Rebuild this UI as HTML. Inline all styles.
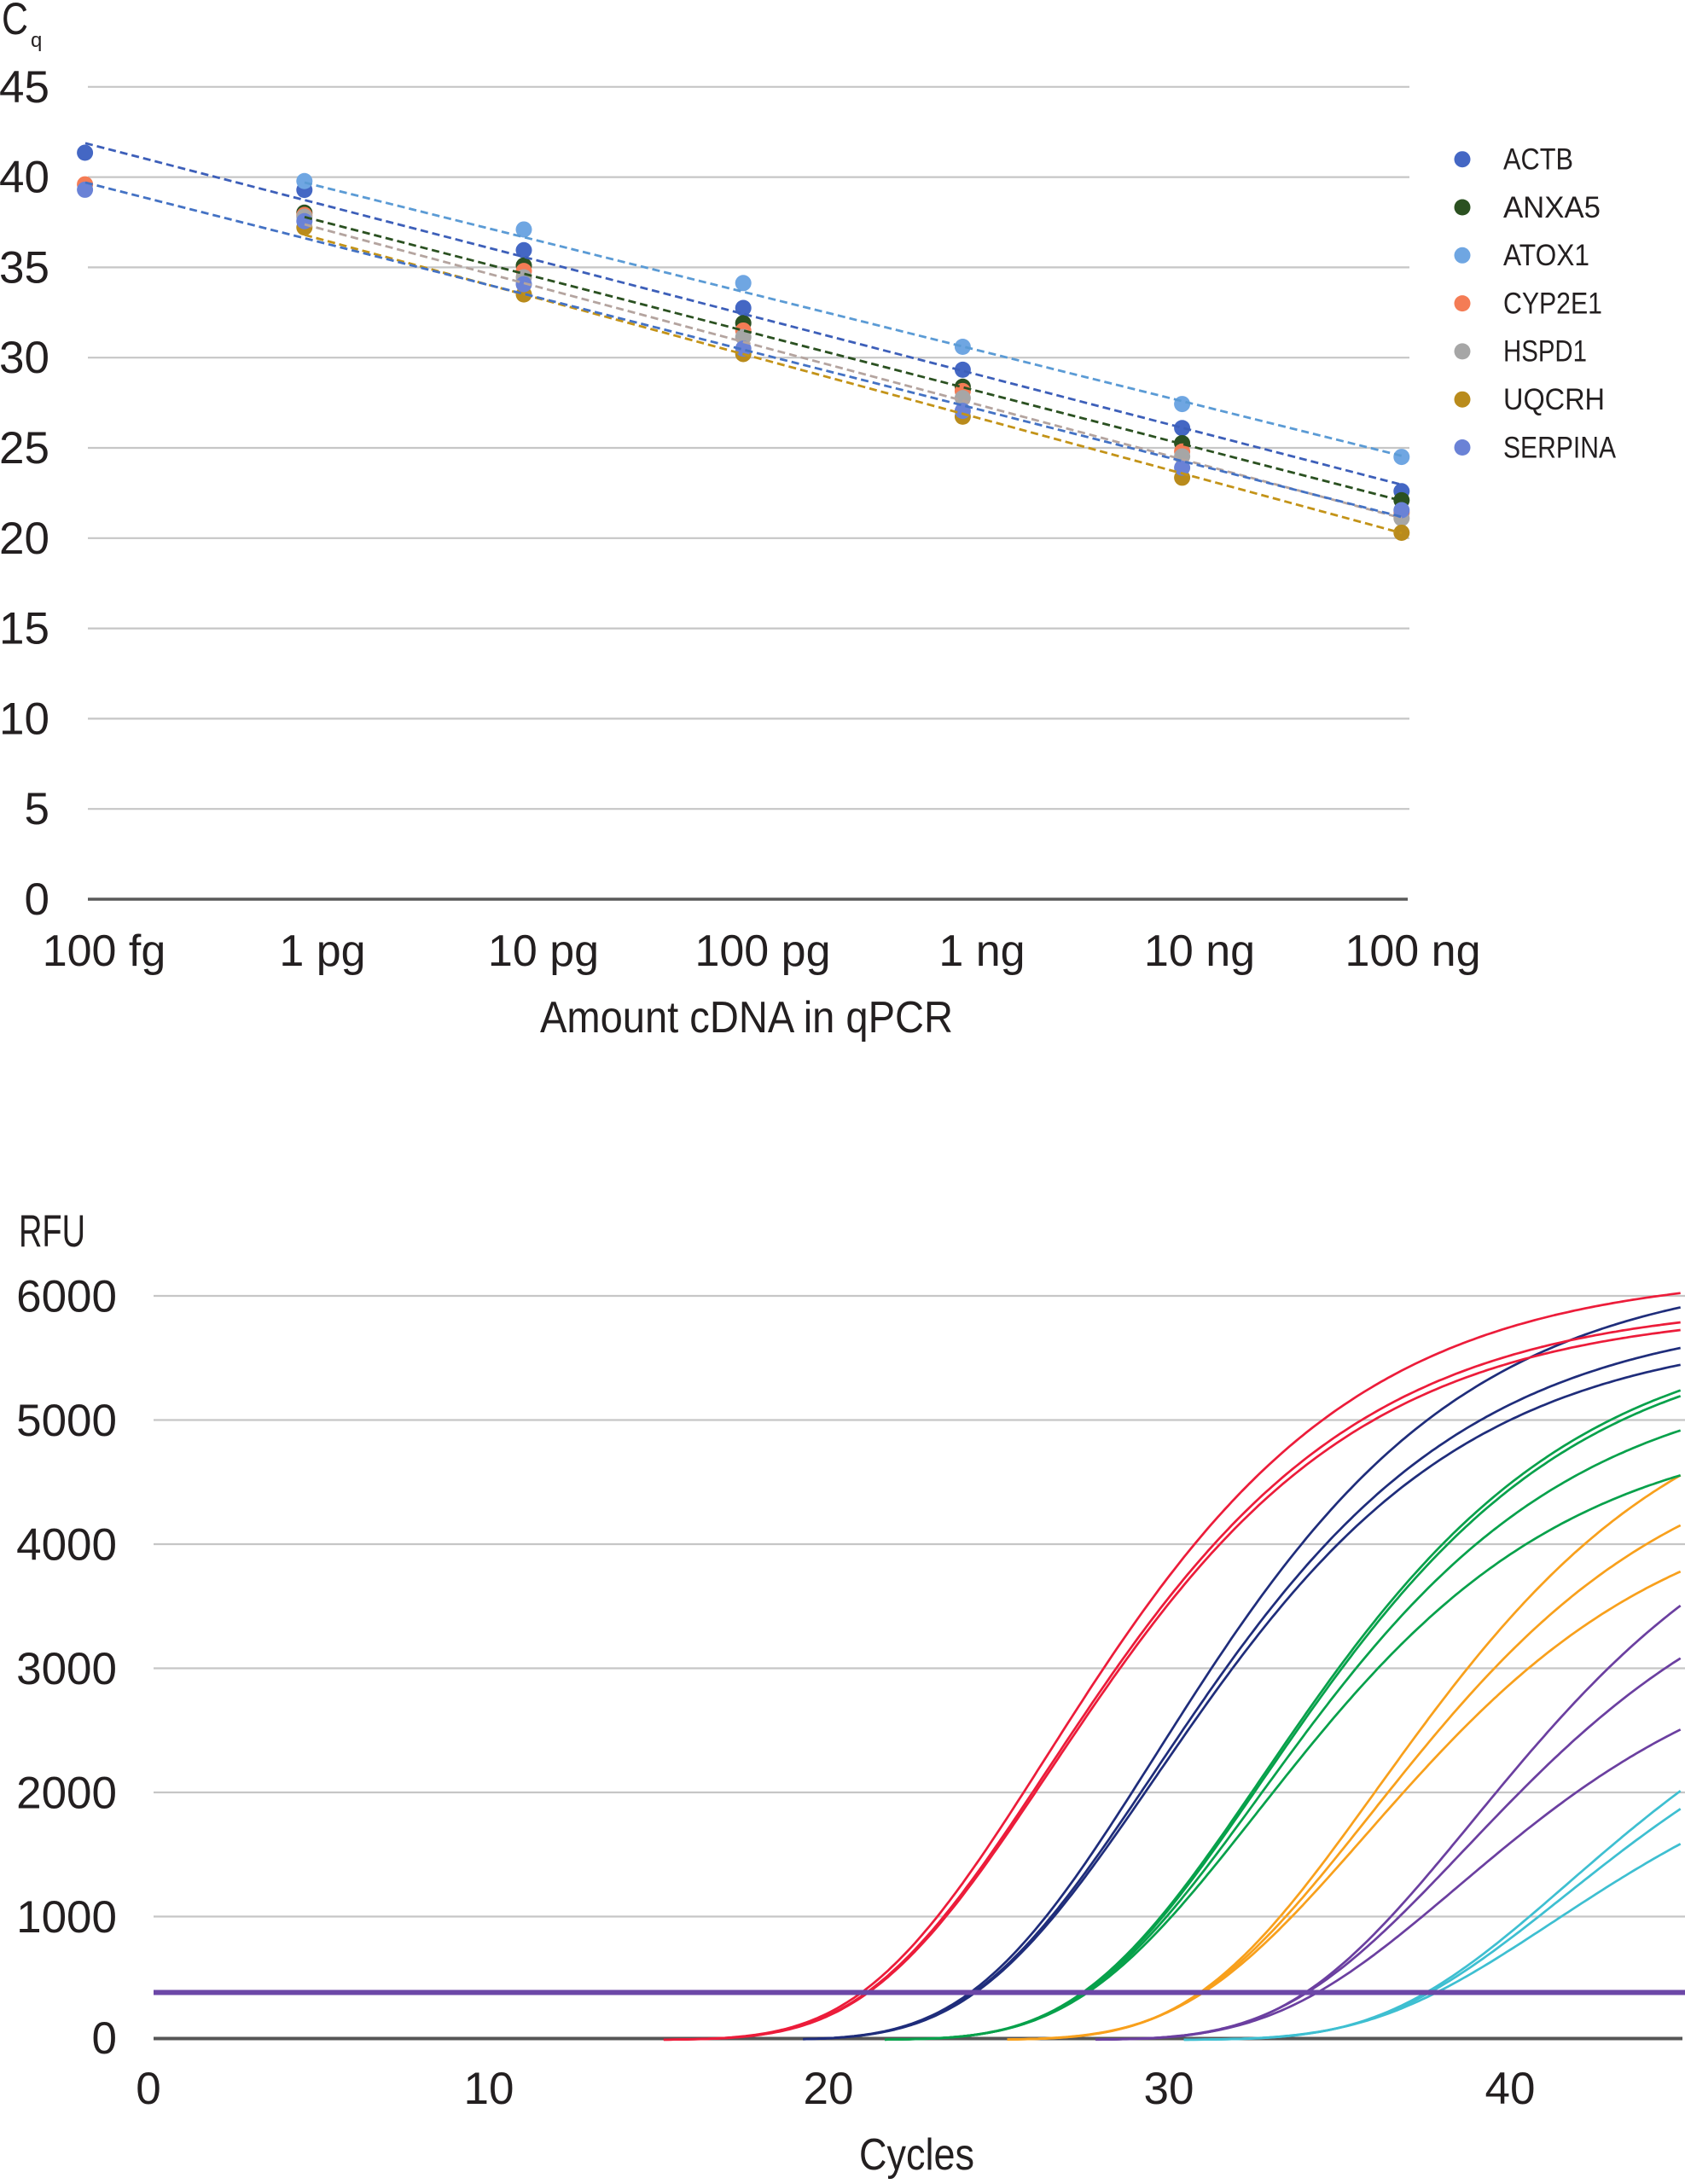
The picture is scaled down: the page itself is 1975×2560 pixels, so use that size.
<!DOCTYPE html>
<html>
<head>
<meta charset="utf-8">
<style>
  html,body{margin:0;padding:0;background:#fff;}
  svg{display:block;}
  text{font-family:"Liberation Sans", Arial, sans-serif; fill:#231f20;}
</style>
</head>
<body>
<svg id="chart" xmlns="http://www.w3.org/2000/svg" width="1975" height="2560" viewBox="0 0 1975 2560">
  <rect x="0" y="0" width="1975" height="2560" fill="#ffffff"/>

  <!-- ================= TOP CHART ================= -->
  <g id="topgrid" stroke="#c6c6c6" stroke-width="2.2">
    <line x1="103" y1="101.8" x2="1652" y2="101.8"/>
    <line x1="103" y1="207.6" x2="1652" y2="207.6"/>
    <line x1="103" y1="313.4" x2="1652" y2="313.4"/>
    <line x1="103" y1="419.2" x2="1652" y2="419.2"/>
    <line x1="103" y1="525" x2="1652" y2="525"/>
    <line x1="103" y1="630.8" x2="1652" y2="630.8"/>
    <line x1="103" y1="736.6" x2="1652" y2="736.6"/>
    <line x1="103" y1="842.4" x2="1652" y2="842.4"/>
    <line x1="103" y1="948.2" x2="1652" y2="948.2"/>
  </g>
  <line x1="103" y1="1054" x2="1650" y2="1054" stroke="#595959" stroke-width="3.5"/>

  <!-- Cq label -->
  <text x="2" y="40" font-size="53" textLength="31" lengthAdjust="spacingAndGlyphs">C</text>
  <text x="36" y="55" font-size="24">q</text>

  <!-- top y tick labels -->
  <g font-size="53" text-anchor="end">
    <text x="58" y="120">45</text>
    <text x="58" y="225.6">40</text>
    <text x="58" y="331.4">35</text>
    <text x="58" y="437.2">30</text>
    <text x="58" y="543">25</text>
    <text x="58" y="648.8">20</text>
    <text x="58" y="754.6">15</text>
    <text x="58" y="860.4">10</text>
    <text x="58" y="966.2">5</text>
    <text x="58" y="1072">0</text>
  </g>

  <!-- top x tick labels -->
  <g font-size="52" text-anchor="middle">
    <text x="122" y="1132">100 fg</text>
    <text x="378" y="1132">1 pg</text>
    <text x="637" y="1132">10 pg</text>
    <text x="894" y="1132">100 pg</text>
    <text x="1151" y="1132">1 ng</text>
    <text x="1406" y="1132">10 ng</text>
    <text x="1656" y="1132">100 ng</text>
  </g>
  <text x="633" y="1210" font-size="52" textLength="484" lengthAdjust="spacingAndGlyphs">Amount cDNA in qPCR</text>

  <g id="topdots"></g>
  <g id="toplines" fill="none" stroke-width="2.8" stroke-dasharray="9 5"></g>

  <!-- legend -->
  <g id="legend">
    <circle cx="1714" cy="186.7" r="9.5" fill="#4467c4"/>
    <circle cx="1714" cy="243" r="9.5" fill="#2b5121"/>
    <circle cx="1714" cy="299.3" r="9.5" fill="#6fa6e2"/>
    <circle cx="1714" cy="355.6" r="9.5" fill="#f47c55"/>
    <circle cx="1714" cy="411.9" r="9.5" fill="#a6a6a6"/>
    <circle cx="1714" cy="468.2" r="9.5" fill="#b98b1c"/>
    <circle cx="1714" cy="524.5" r="9.5" fill="#6a82d6"/>
    <g font-size="35">
      <text x="1762" y="198.5" textLength="82" lengthAdjust="spacingAndGlyphs">ACTB</text>
      <text x="1762" y="254.8" textLength="114" lengthAdjust="spacingAndGlyphs">ANXA5</text>
      <text x="1762" y="311.1" textLength="101" lengthAdjust="spacingAndGlyphs">ATOX1</text>
      <text x="1762" y="367.4" textLength="116" lengthAdjust="spacingAndGlyphs">CYP2E1</text>
      <text x="1762" y="423.7" textLength="98" lengthAdjust="spacingAndGlyphs">HSPD1</text>
      <text x="1762" y="480" textLength="119" lengthAdjust="spacingAndGlyphs">UQCRH</text>
      <text x="1762" y="536.3" textLength="132" lengthAdjust="spacingAndGlyphs">SERPINA</text>
    </g>
  </g>

  <!-- ================= BOTTOM CHART ================= -->
  <text x="22" y="1461" font-size="53" textLength="78" lengthAdjust="spacingAndGlyphs">RFU</text>
  <g stroke="#c6c6c6" stroke-width="2.2">
    <line x1="180" y1="1519" x2="1975" y2="1519"/>
    <line x1="180" y1="1664.5" x2="1975" y2="1664.5"/>
    <line x1="180" y1="1810" x2="1975" y2="1810"/>
    <line x1="180" y1="1955.5" x2="1975" y2="1955.5"/>
    <line x1="180" y1="2101" x2="1975" y2="2101"/>
    <line x1="180" y1="2246.5" x2="1975" y2="2246.5"/>
  </g>
  <g font-size="53" text-anchor="end">
    <text x="137" y="1537.5">6000</text>
    <text x="137" y="1683">5000</text>
    <text x="137" y="1828.5">4000</text>
    <text x="137" y="1974">3000</text>
    <text x="137" y="2119.5">2000</text>
    <text x="137" y="2265">1000</text>
    <text x="137" y="2407">0</text>
  </g>
  <g font-size="53" text-anchor="middle">
    <text x="174" y="2466">0</text>
    <text x="573" y="2466">10</text>
    <text x="971" y="2466">20</text>
    <text x="1370" y="2466">30</text>
    <text x="1770" y="2466">40</text>
  </g>
  <text x="1007" y="2543" font-size="52" textLength="135" lengthAdjust="spacingAndGlyphs">Cycles</text>

  <line x1="180" y1="2389.5" x2="1972" y2="2389.5" stroke="#555555" stroke-width="4"/>
  <g id="curves" fill="none" stroke-width="2.7" stroke-linejoin="round" stroke-linecap="butt"></g>
  <line x1="180" y1="2335.5" x2="1975" y2="2335.5" stroke="#6c47a7" stroke-width="6"/>
</svg>

<script>
(function(){
  var NS = "http://www.w3.org/2000/svg";
  // ---------- TOP CHART ----------
  function xi(i){ return 99.6 + i*257.2; }
  function yc(v){ return 1054 - v*21.16; }
  var genes = [
    {c:"#4467c4", d:[41.35,39.29,35.95,32.75,29.33,26.1,22.6]},
    {c:"#2b5121", d:[null,38.03,35.1,31.91,28.39,25.26,22.1]},
    {c:"#6fa6e2", d:[null,39.78,37.1,34.13,30.6,27.43,24.5]},
    {c:"#f47c55", d:[39.6,37.9,34.8,31.5,28.15,24.8,21.4]},
    {c:"#a6a6a6", d:[null,37.8,34.45,31.14,27.76,24.53,21.1]},
    {c:"#b98b1c", d:[null,37.21,33.5,30.2,26.73,23.35,20.3]},
    {c:"#6a82d6", d:[39.3,37.56,34.07,30.5,27.05,23.9,21.55]}
  ];
  var dots = document.getElementById("topdots");
  genes.forEach(function(g){
    g.d.forEach(function(v,i){
      if(v===null) return;
      var c = document.createElementNS(NS,"circle");
      c.setAttribute("cx", xi(i)); c.setAttribute("cy", yc(v));
      c.setAttribute("r", 9.5); c.setAttribute("fill", g.c);
      dots.appendChild(c);
    });
  });
  var tl = [
    {c:"#3d5fb9", x1:100, v1:41.88, v2:22.96},
    {c:"#2b5121", x1:357, v1:37.79, v2:22.07},
    {c:"#b4a49f", x1:357, v1:37.38, v2:21.11},
    {c:"#5b9bd5", x1:357, v1:39.7, v2:24.56},
    {c:"#c39318", x1:357, v1:36.8, v2:20.28},
    {c:"#4472c4", x1:100, v1:39.7, v2:21.18}
  ];
  var lines = document.getElementById("toplines");
  tl.forEach(function(t){
    var l = document.createElementNS(NS,"line");
    l.setAttribute("x1", t.x1); l.setAttribute("y1", yc(t.v1));
    l.setAttribute("x2", 1643); l.setAttribute("y2", yc(t.v2));
    l.setAttribute("stroke", t.c);
    lines.appendChild(l);
  });

  // ---------- BOTTOM CHART ----------
  function X(c){ return 176 + c*39.86; }
  function Y(f){ return 2391 - f*0.14537; }
  var TH = 378;
  function G(c,M,m,k){ return M*Math.exp(-Math.exp(-(c-m)/k)); }
  function fit(ct,end,k){
    var lo=end*1.0005, hi=end*6, M, m;
    for(var i=0;i<100;i++){
      M=(lo+hi)/2;
      m=ct+k*Math.log(Math.log(M/TH));
      var f=G(45,M,m,k);
      if(f>end) hi=M; else lo=M;
    }
    M=(lo+hi)/2; m=ct+k*Math.log(Math.log(M/TH));
    return {M:M,m:m,k:k};
  }
  var groups = [
    {c:"#3ebfd1", s:30.4, r:[[37.5,2007],[37.6,1862],[37.8,1580]]},
    {c:"#6b3fa0", s:27.8, r:[[33.95,3501],[34.0,3077],[34.3,2502]]},
    {c:"#f8a01c", s:25.2, r:[[30.85,4552],[30.9,4149],[30.95,3776]]},
    {c:"#07a14b", s:21.6, r:[[27.4,5237],[27.45,5191],[27.5,4914],[27.55,4552]]},
    {c:"#1f2d7b", s:19.2, r:[[24.1,5906],[24.2,5579],[24.25,5443]]},
    {c:"#ec1c3a", s:15.1, r:[[20.9,6021],[21.05,5785],[21.1,5723]]}
  ];
  var cg = document.getElementById("curves");
  groups.forEach(function(g){
    g.r.forEach(function(r){
      var p = fit(r[0], r[1], 5.3);
      var d = "";
      for(var c=g.s; c<=45.0001; c+=0.1){
        var f = G(c,p.M,p.m,p.k);
        d += (d===""?"M":"L") + X(c).toFixed(1) + " " + Y(f).toFixed(1) + " ";
      }
      var path = document.createElementNS(NS,"path");
      path.setAttribute("d", d);
      path.setAttribute("stroke", g.c);
      cg.appendChild(path);
    });
  });
})();
</script>
</body>
</html>
